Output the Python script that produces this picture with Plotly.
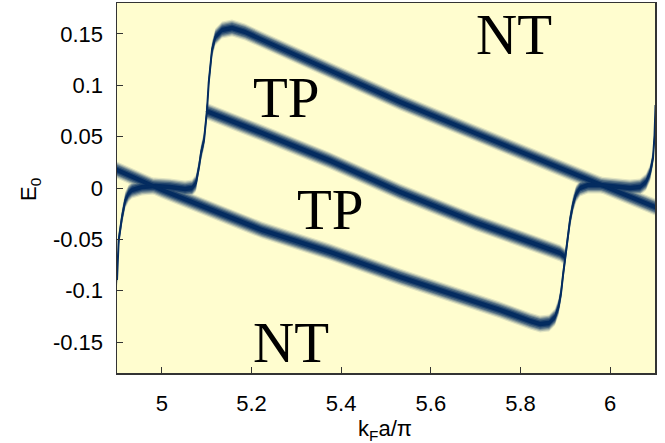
import plotly.graph_objects as go

# ---- data (k_F a / pi  vs  E_0) ----
# branch A: left-edge rise -> flat near zero -> steep S -> upper band
k_branch_a = [4.9, 4.9011, 4.9038, 4.9112, 4.9185, 4.926, 4.9335, 4.9558, 4.9848,
              5.0182, 5.0517, 5.0673, 5.0762, 5.0829, 5.0874, 5.0941, 5.1008,
              5.1045, 5.1081, 5.1119, 5.1193, 5.1342, 5.1565, 5.1855, 5.2234,
              5.375, 5.5313, 5.7, 5.8882, 6.1]
e_branch_a = [-0.0895, -0.072, -0.0506, -0.0282, -0.0117, -0.005, -0.0019, 0.001, 0.0019,
              0.001, -0.001, 0.0, 0.0049, 0.0204, 0.0341, 0.0467, 0.0759,
              0.1022, 0.1177, 0.1343, 0.1469, 0.1537, 0.1557, 0.1518, 0.144,
              0.1145, 0.0837, 0.053, 0.0195, -0.0185]

# branch B: line from left edge -> lower band -> steep rise -> flat near zero -> right-edge rise
k_branch_b = [4.9, 5.0004, 5.2234, 5.3751, 5.5313, 5.7543, 5.8213, 5.8436, 5.8637,
              5.877, 5.8848, 5.8904, 5.8949, 5.8993, 5.9049, 5.9105, 5.9172, 5.9238,
              5.9328, 5.9506, 5.9774, 6.0064, 6.0443, 6.0666, 6.08, 6.0889, 6.0956,
              6.099, 6.1012]
e_branch_b = [0.0175, -0.0019, -0.0409, -0.0623, -0.0866, -0.1187, -0.1294, -0.1323, -0.1313,
              -0.1255, -0.1158, -0.1022, -0.0846, -0.0681, -0.0486, -0.0311, -0.0156, -0.0058,
              0.0, 0.0029, 0.0029, 0.0015, 0.0, 0.001, 0.0058, 0.0146, 0.0292,
              0.0516, 0.0808]

# branch C: middle band between the two steep rises
k_branch_c = [5.0985, 5.2234, 5.3751, 5.5313, 5.7, 5.8882, 5.8993]
e_branch_c = [0.0749, 0.0535, 0.0266, -0.0039, -0.0335, -0.0632, -0.0671]

x_tick_vals = [5.0, 5.2, 5.4, 5.6, 5.8, 6.0]
x_tick_text = ["5", "5.2", "5.4", "5.6", "5.8", "6"]
y_tick_vals = [0.15, 0.1, 0.05, 0.0, -0.05, -0.1, -0.15]
y_tick_text = ["0.15", "0.1", "0.05", "0", "-0.05", "-0.1", "-0.15"]

label_text = ["NT", "TP", "TP", "NT"]
label_k = [5.7856, 5.277, 5.3751, 5.2881]
label_e = [0.1498, 0.0885, -0.0214, -0.1508]

x_title = "k<sub>F</sub>a/π"
y_title = "E<sub>0</sub>"

# ---- styling ----
W, H = 665, 443
M_L, M_R, M_T, M_B = 117, 10, 3, 70
X_RANGE = [4.9, 6.1]
Y_RANGE = [-0.18, 0.18]
PLOT_W = W - M_L - M_R
PLOT_H = H - M_T - M_B
px_per_e = PLOT_H / (Y_RANGE[1] - Y_RANGE[0])

BG = (255, 253, 207)
NAVY = (4, 44, 96)


def mix(t):
    r = round(BG[0] + (NAVY[0] - BG[0]) * t)
    g = round(BG[1] + (NAVY[1] - BG[1]) * t)
    b = round(BG[2] + (NAVY[2] - BG[2]) * t)
    return f"rgb({r},{g},{b})"


# (half-width in pixels, colour mix towards navy)
layers = [(8.5, 0.12), (7.3, 0.32), (6.1, 0.52), (4.9, 0.72), (3.6, 0.88), (2.3, 1.0)]

curves = [(k_branch_a, e_branch_a), (k_branch_b, e_branch_b), (k_branch_c, e_branch_c)]

fig = go.Figure()
for hw, t in layers:
    w = hw / px_per_e
    for ks, es in curves:
        xs = list(ks) + list(ks)[::-1]
        ys = [e + w for e in es] + [e - w for e in es][::-1]
        fig.add_trace(go.Scatter(x=xs, y=ys, mode="lines", fill="toself",
                                 fillcolor=mix(t), line=dict(width=0),
                                 hoverinfo="skip", showlegend=False))
for ks, es in curves:
    fig.add_trace(go.Scatter(x=ks, y=es, mode="lines",
                             line=dict(color=mix(1.0), width=2),
                             hoverinfo="skip", showlegend=False))

for txt, k, e in zip(label_text, label_k, label_e):
    fig.add_annotation(x=k, y=e, xref="x", yref="y", text=txt, showarrow=False,
                       xanchor="center", yanchor="middle",
                       font=dict(family="Liberation Serif, Times New Roman, serif",
                                 size=57, color="black"))

tick_font = dict(family="Liberation Sans, Arial, sans-serif", size=22, color="black")

# axis titles as paper-anchored annotations
fig.add_annotation(x=0.5 + (385 - (M_L + PLOT_W / 2)) / PLOT_W,
                   y=-(430 - (H - M_B)) / PLOT_H,
                   xref="paper", yref="paper", text=x_title, showarrow=False,
                   xanchor="center", yanchor="middle", font=tick_font)
fig.add_annotation(x=-(M_L - 30) / PLOT_W, y=((H - M_B) - 190) / PLOT_H,
                   xref="paper", yref="paper", text=y_title, showarrow=False,
                   textangle=-90, xanchor="center", yanchor="middle", font=tick_font)

fig.update_layout(
    width=W, height=H,
    margin=dict(l=M_L, r=M_R, t=M_T, b=M_B, autoexpand=False),
    paper_bgcolor="white",
    plot_bgcolor=mix(0.0),
    showlegend=False,
    hovermode=False,
    xaxis=dict(range=X_RANGE, tickvals=x_tick_vals, ticktext=x_tick_text,
               ticks="inside", ticklen=6, tickwidth=1, tickcolor="#333",
               showline=True, linecolor="#333", linewidth=1.5, mirror=True,
               showgrid=False, zeroline=False, tickfont=tick_font,
               ticklabelstandoff=10, automargin=False),
    yaxis=dict(range=Y_RANGE, tickvals=y_tick_vals, ticktext=y_tick_text,
               ticks="inside", ticklen=6, tickwidth=1, tickcolor="#333",
               showline=True, linecolor="#333", linewidth=1.5, mirror=True,
               showgrid=False, zeroline=False, tickfont=tick_font,
               ticklabelstandoff=8, automargin=False),
)

fig.write_html("out.html",
               config={"displayModeBar": False, "staticPlot": True},
               post_script="document.body.style.margin='0';document.body.style.overflow='hidden';")
